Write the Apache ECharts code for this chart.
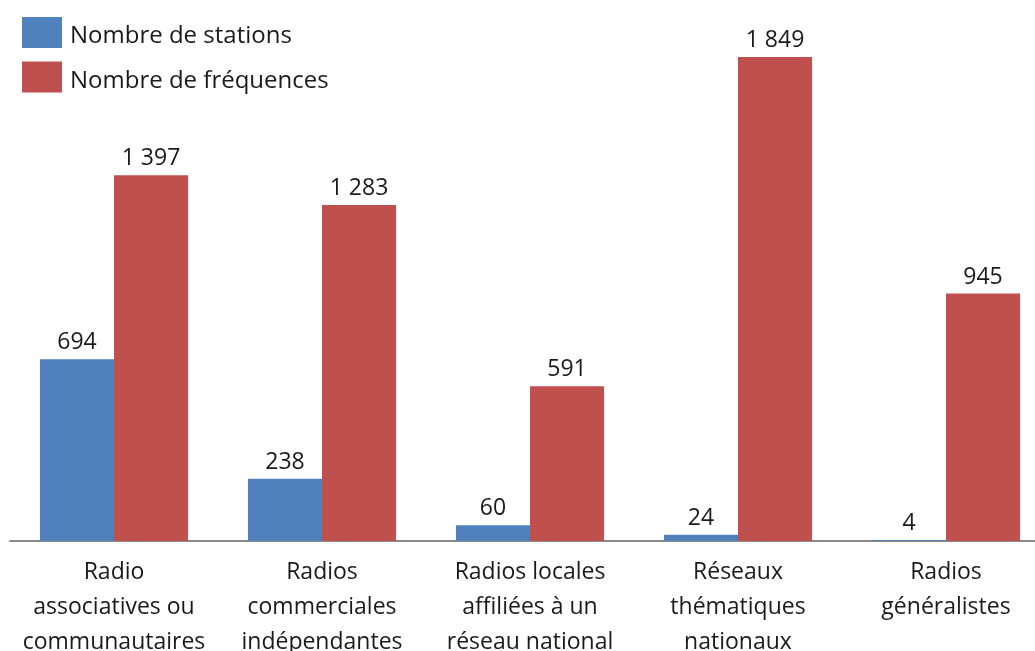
<!DOCTYPE html>
<html><head><meta charset="utf-8">
<script src="https://cdn.jsdelivr.net/npm/echarts@6/dist/echarts.min.js"></script>
<style>html,body{margin:0;padding:0;background:#fff}#c{width:1035px;height:651px}</style>
</head><body><div id="c"></div>
<script>
const categories = ["Radio\nassociatives ou\ncommunautaires","Radios\ncommerciales\nindépendantes","Radios locales\naffiliées à un\nréseau national","Réseaux\nthématiques\nnationaux","Radios\ngénéralistes"];
const stations = [694, 238, 60, 24, 4];
const frequences = [1397, 1283, 591, 1849, 945];
const seriesNames = ["Nombre de stations","Nombre de fréquences"];
const FONT = "'Open Sans', sans-serif";
const fmt = v => String(v.value).replace(/\B(?=(\d{3})+(?!\d))/g, " ");
const chart = echarts.init(document.getElementById('c'));
chart.setOption({
  animation:false,
  textStyle:{fontFamily:FONT},
  legend:{orient:'vertical',left:22,top:17,padding:0,itemWidth:40,itemHeight:31,itemGap:13,icon:'rect',
    formatter: n => '{t|' + n + '}',
    textStyle:{fontSize:24,color:'#1a1a1a',fontFamily:FONT,
      rich:{t:{fontSize:24,color:'#1a1a1a',fontFamily:FONT,padding:[8,0,0,3]}}},
    data:seriesNames},
  grid:{left:10,top:17.4,bottom:110,width:1040,containLabel:false,outerBoundsMode:'none'},
  xAxis:{type:'category',data:categories,
    axisLine:{lineStyle:{color:'#8c8c8c',width:2}},axisTick:{show:false},
    axisLabel:{fontSize:23,color:'#1a1a1a',lineHeight:35,margin:14,interval:0,fontFamily:FONT}},
  yAxis:{type:'value',min:0,max:2000,show:false,splitLine:{show:false}},
  series:[
    {name:seriesNames[0],type:'bar',data:stations,barGap:'0%',barCategoryGap:'28.8%',
     itemStyle:{color:'#4F81BD'},label:{show:true,position:'top',distance:5,fontSize:23,color:'#1a1a1a',fontFamily:FONT,formatter:fmt}},
    {name:seriesNames[1],type:'bar',data:frequences,barGap:'0%',barCategoryGap:'28.8%',
     itemStyle:{color:'#C0504D'},label:{show:true,position:'top',distance:5,fontSize:23,color:'#1a1a1a',fontFamily:FONT,formatter:fmt}}
  ]
});
</script></body></html>
